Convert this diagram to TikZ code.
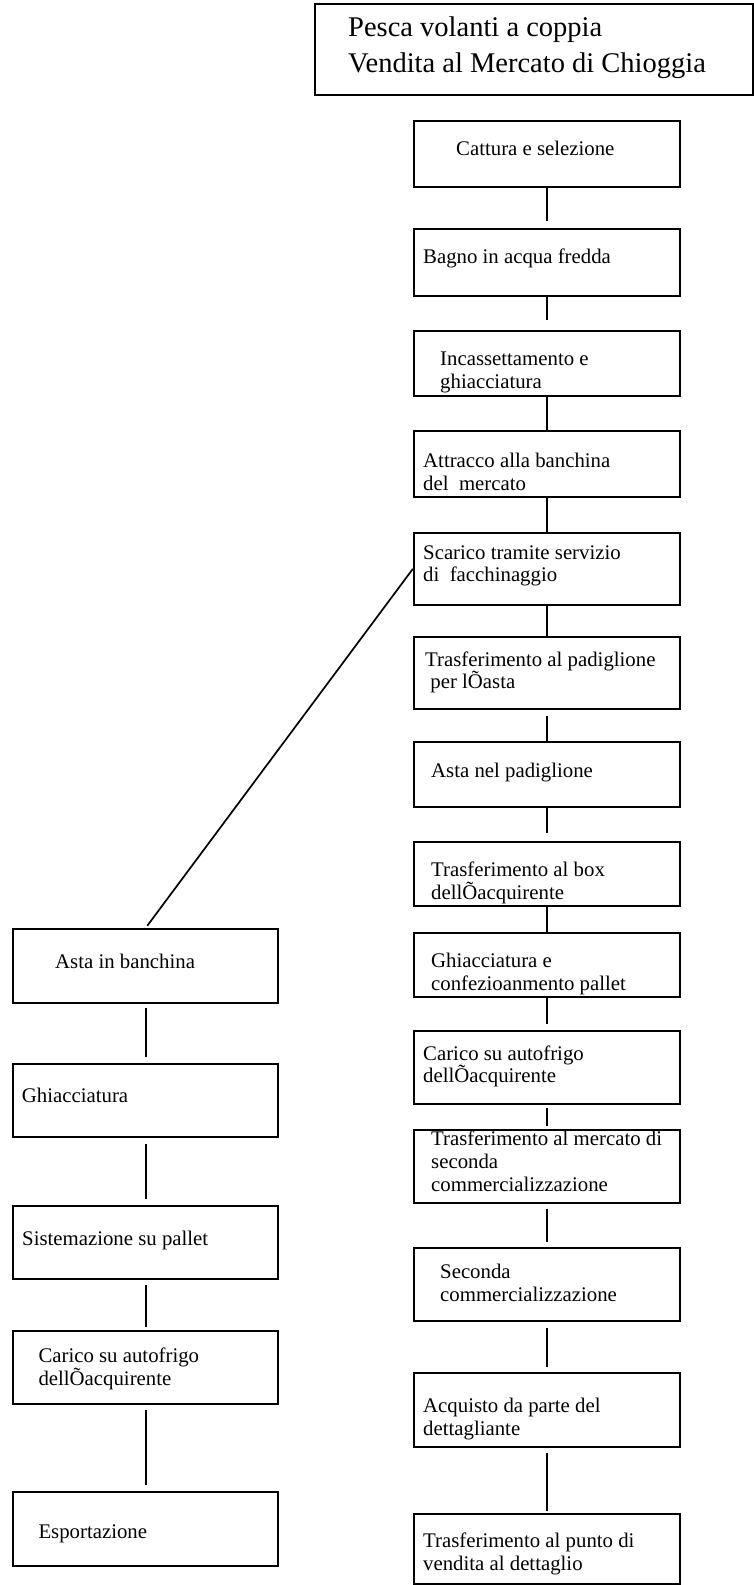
\documentclass[tikz,border=0pt]{standalone}
\usepackage{fontspec}
\setmainfont{Liberation Serif}
\begin{document}
\begin{tikzpicture}%
	[x=1pt, y=-1pt,
	box/.style={draw, line width=2.3pt, inner sep=0pt, minimum width=266pt},
	sidebox/.style={box, minimum width=265.6pt},
	headbox/.style={box, minimum width=438pt, minimum height=91pt},
	link/.style={line width=2pt},
	slant/.style={line width=1.7pt},
	txt/.style={anchor=base west, inner sep=0pt, align=left, font=\fontsize{20.8}{22.5}\selectfont},
	headtxt/.style={txt, font=\fontsize{28.5}{36}\selectfont}]
%
\useasboundingbox (0,0) rectangle (754,1585);
%
%% Title (texts are placed by the baseline of their last line)
%%
\node[headbox] (head) at (534,49.5) {};
\node[headtxt] (headt) at (348,72.7) {Pesca volanti a coppia\\Vendita al Mercato di Chioggia};
%%
%% Boxes of the main chain
%%
\node[box, minimum height=66pt]   (b1)  at (547,153.7)   {};
\node[box, minimum height=66.4pt] (b2)  at (547,262.5)   {};
\node[box, minimum height=64.7pt] (b3)  at (547,363.35)  {};
\node[box, minimum height=66pt]   (b4)  at (547,463.7)   {};
\node[box, minimum height=72.3pt] (b5)  at (547,568.85)  {};
\node[box, minimum height=72.3pt] (b6)  at (547,672.85)  {};
\node[box, minimum height=65pt]   (b7)  at (547,774.2)   {};
\node[box, minimum height=64pt]   (b8)  at (547,873.7)   {};
\node[box, minimum height=64pt]   (b9)  at (547,965.3)   {};
\node[box, minimum height=73.3pt] (b10) at (547,1067.35) {};
\node[box, minimum height=73.3pt] (b11) at (547,1166.65) {};
\node[box, minimum height=72.7pt] (b12) at (547,1284.65) {};
\node[box, minimum height=74pt]   (b13) at (547,1410.3)  {};
\node[box, minimum height=69.7pt] (b14) at (547,1549.15) {};
%%
\node[txt] (t1)  at (456,155)    {Cattura e selezione};
\node[txt] (t2)  at (423,263)    {Bagno in acqua fredda};
\node[txt] (t3)  at (440,388)    {Incassettamento e\\ghiacciatura};
\node[txt] (t4)  at (423,490)    {Attracco alla banchina\\del~~mercato};
\node[txt] (t5)  at (423,581.7)  {Scarico tramite servizio\\di~~facchinaggio};
\node[txt] (t6)  at (425,688.5)  {Trasferimento al padiglione\\~per lÕasta};
\node[txt] (t7)  at (431,777.3)  {Asta nel padiglione};
\node[txt] (t8)  at (431,899.3)  {Trasferimento al box\\dellÕacquirente};
\node[txt] (t9)  at (431,990)    {Ghiacciatura e\\confezioanmento pallet};
\node[txt] (t10) at (423,1082.7) {Carico su autofrigo\\dellÕacquirente};
\node[txt, font=\fontsize{20.8}{23.3}\selectfont] (t11) at (431,1191.7) {Trasferimento al mercato di\\seconda\\commercializzazione};
\node[txt] (t12) at (440,1301)   {Seconda\\commercializzazione};
\node[txt] (t13) at (423,1435)   {Acquisto da parte del\\dettagliante};
\node[txt] (t14) at (423,1570)   {Trasferimento al punto di\\vendita al dettaglio};
%%
%% Boxes of the side chain
%%
\node[sidebox, minimum height=73.4pt] (bA) at (145.5,966)     {};
\node[sidebox, minimum height=73.3pt] (bB) at (145.5,1100.65) {};
\node[sidebox, minimum height=73.3pt] (bC) at (145.5,1242.35) {};
\node[sidebox, minimum height=73.3pt] (bD) at (145.5,1367.65) {};
\node[sidebox, minimum height=74pt]   (bE) at (145.5,1528.7)  {};
%%
\node[txt] (tA) at (55,968.3)    {Asta in banchina};
\node[txt] (tB) at (21.7,1102.7) {Ghiacciatura};
\node[txt] (tC) at (22,1245)     {Sistemazione su pallet};
\node[txt] (tD) at (38.3,1385)   {Carico su autofrigo\\dellÕacquirente};
\node[txt] (tE) at (38.3,1538.3) {Esportazione};
%%
%% Connectors
%%
\draw[link, shorten >=7.6pt] (b1) -- (b2);
\draw[link, shorten >=10pt] (b2) -- (b3);
\draw[link] (b3) -- (b4);
\draw[link] (b4) -- (b5);
\draw[link] (b5) -- (b6);
\draw[link, shorten <=6pt] (b6) -- (b7);
\draw[link, shorten >=7.7pt] (b7) -- (b8);
\draw[link] (b8) -- (b9);
\draw[link, shorten >=5.7pt] (b9) -- (b10);
\draw[link, shorten <=2.7pt, shorten >=3.3pt] (b10) -- (b11);
\draw[link, shorten <=4.7pt, shorten >=5pt] (b11) -- (b12);
\draw[link, shorten <=5.7pt, shorten >=5.6pt] (b12) -- (b13);
\draw[link, shorten <=4.4pt, shorten >=2pt] (b13) -- (b14);
%%
\draw[link, shorten <=4.6pt, shorten >=5.7pt] (bA) -- (bB);
\draw[link, shorten <=5.4pt, shorten >=5.7pt] (bB) -- (bC);
\draw[link, shorten <=5pt, shorten >=3.3pt] (bC) -- (bD);
\draw[link, shorten <=4.7pt, shorten >=5.7pt] (bD) -- (bE);
%%
\draw[slant, shorten >=3pt] (b5.west) -- (bA.north);
%%
\end{tikzpicture}
\end{document}
